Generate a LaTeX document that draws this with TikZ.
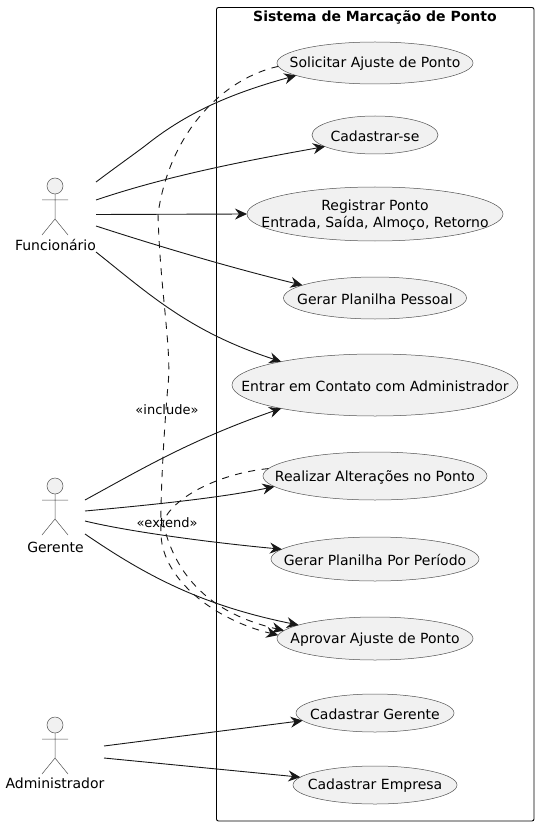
\documentclass[tikz,border=0pt]{standalone}
\usepackage{fontspec}
\setmainfont{DejaVu Sans}
\usetikzlibrary{arrows.meta,shapes.geometric}
\definecolor{ink}{HTML}{181818}
\definecolor{usefill}{HTML}{F1F1F1}
\tikzset{
  x=1pt,y=-1pt,
  usecase/.style={ellipse,draw=ink!75,line width=0.5pt,fill=usefill,inner sep=0pt,outer sep=0pt},
  usetext/.style={align=center,font=\fontsize{14}{16.5}\selectfont,text=black,inner sep=0pt,yshift=-1pt},
  conn/.style={draw=ink,line width=0.9pt,-{Stealth[inset=4pt,length=12pt,width=11pt]}},
  dep/.style={conn,dash pattern=on 7pt off 6.5pt},
  actorline/.style={draw=ink!75,line width=0.5pt},
  actorname/.style={font=\fontsize{14}{16.5}\selectfont,inner sep=0pt,text=black},
  rel/.style={font=\fontsize{13}{15}\selectfont,inner sep=0pt,text=black},
  frametitle/.style={font=\fontsize{14}{16.5}\selectfont\bfseries,inner sep=0pt,text=black}
}
\newcommand{\actorfig}[1]{%
  \draw[actorline,fill=usefill] (55,#1) circle[radius=8];
  \draw[actorline] (55,#1+8) -- (55,#1+33) (42,#1+14) -- (68,#1+14) (42,#1+49) -- (55,#1+33) -- (68,#1+49);
}
\begin{document}
\begin{tikzpicture}
\useasboundingbox (0,0) rectangle (538,826);
\fill[white] (0,0) rectangle (538,826);
\draw[black,line width=0.9pt,rounded corners=2pt] (216.5,7.5) rectangle (534,821);
\node[frametitle] (title) at (375,17) {Sistema de Marcação de Ponto};

\node[usecase,minimum width=196pt,minimum height=42pt,label={[usetext]center:Solicitar Ajuste de Ponto}] (solicitar) at (375,63) {};
\node[usecase,minimum width=126pt,minimum height=38pt,label={[usetext]center:Cadastrar-se}] (cadastrarse) at (375,135) {};
\node[usecase,minimum width=256pt,minimum height=54pt,label={[usetext]center:Registrar Ponto\\Entrada, Saída, Almoço, Retorno}] (registrar) at (375,214) {};
\node[usecase,minimum width=183pt,minimum height=42pt,label={[usetext]center:Gerar Planilha Pessoal}] (pessoal) at (375,298) {};
\node[usecase,minimum width=286pt,minimum height=62pt,label={[usetext]center:Entrar em Contato com Administrador}] (contato) at (375,385) {};
\node[usecase,minimum width=224pt,minimum height=48pt,label={[usetext]center:Realizar Alterações no Ponto}] (realizar) at (375,476) {};
\node[usecase,minimum width=208pt,minimum height=44pt,label={[usetext]center:Gerar Planilha Por Período}] (periodo) at (375,559) {};
\node[usecase,minimum width=196pt,minimum height=43pt,label={[usetext]center:Aprovar Ajuste de Ponto}] (aprovar) at (375,638.5) {};
\node[usecase,minimum width=158pt,minimum height=38pt,label={[usetext]center:Cadastrar Gerente}] (gerente) at (375,713) {};
\node[usecase,minimum width=164pt,minimum height=38pt,label={[usetext]center:Cadastrar Empresa}] (empresa) at (375,785) {};

\actorfig{186}
\actorfig{486}
\actorfig{725}
\node[actorname] (funcionario) at (55.5,244.5) {Funcionário};
\node[actorname] (gerenteactor) at (55.5,547) {Gerente};
\node[actorname] (administrador) at (55,783) {Administrador};

\coordinate (fa) at (96,182);
\coordinate (fb) at (96,200);
\coordinate (fc) at (96,214.5);
\coordinate (fd) at (96,226);
\coordinate (fe) at (96,252);
\coordinate (ga) at (85,500);
\coordinate (gb) at (85,511);
\coordinate (gc) at (85,521);
\coordinate (gd) at (85,534);
\coordinate (aa) at (104,746);
\coordinate (ab) at (104,758);

\path[conn] (fa) .. controls (120,164) and (140,150) .. (150,142) .. controls (185,115) and (225,95) .. (solicitar.189);
\path[conn] (fb) .. controls (170,175) and (250,160) .. (cadastrarse.193);
\path[conn] (fc) -- (registrar.west);
\path[conn] (fd) .. controls (170,250) and (240,270) .. (pessoal.170);
\path[conn] (fe) .. controls (150,295) and (190,332) .. (contato.166);
\path[conn] (ga) .. controls (140,470) and (190,440) .. (contato.194);
\path[conn] (gb) .. controls (150,505) and (220,498) .. (realizar.186.4);
\path[conn] (gc) .. controls (130,532) and (215,543) .. (periodo.174.6);
\path[conn] (gd) .. controls (145,575) and (200,605) .. (aprovar.170);
\path[conn] (aa) -- (gerente.186);
\path[conn] (ab) -- (empresa.174.5);

\path[dep] (solicitar.182) .. controls (225,78) and (170,130) .. (158,214) .. controls (160,290) and (172,350) .. (168,385) .. controls (164,430) and (160,500) .. (161,535) .. controls (163,580) and (215,620) .. (aprovar.178.5);
\path[dep] (realizar.176.4) .. controls (215,474) and (170,500) .. (163,523) .. controls (172,560) and (195,610) .. (aprovar.175);

\node[rel] (include) at (167,410) {«include»};
\node[rel] (extend) at (167,523) {«extend»};
\end{tikzpicture}
\end{document}
